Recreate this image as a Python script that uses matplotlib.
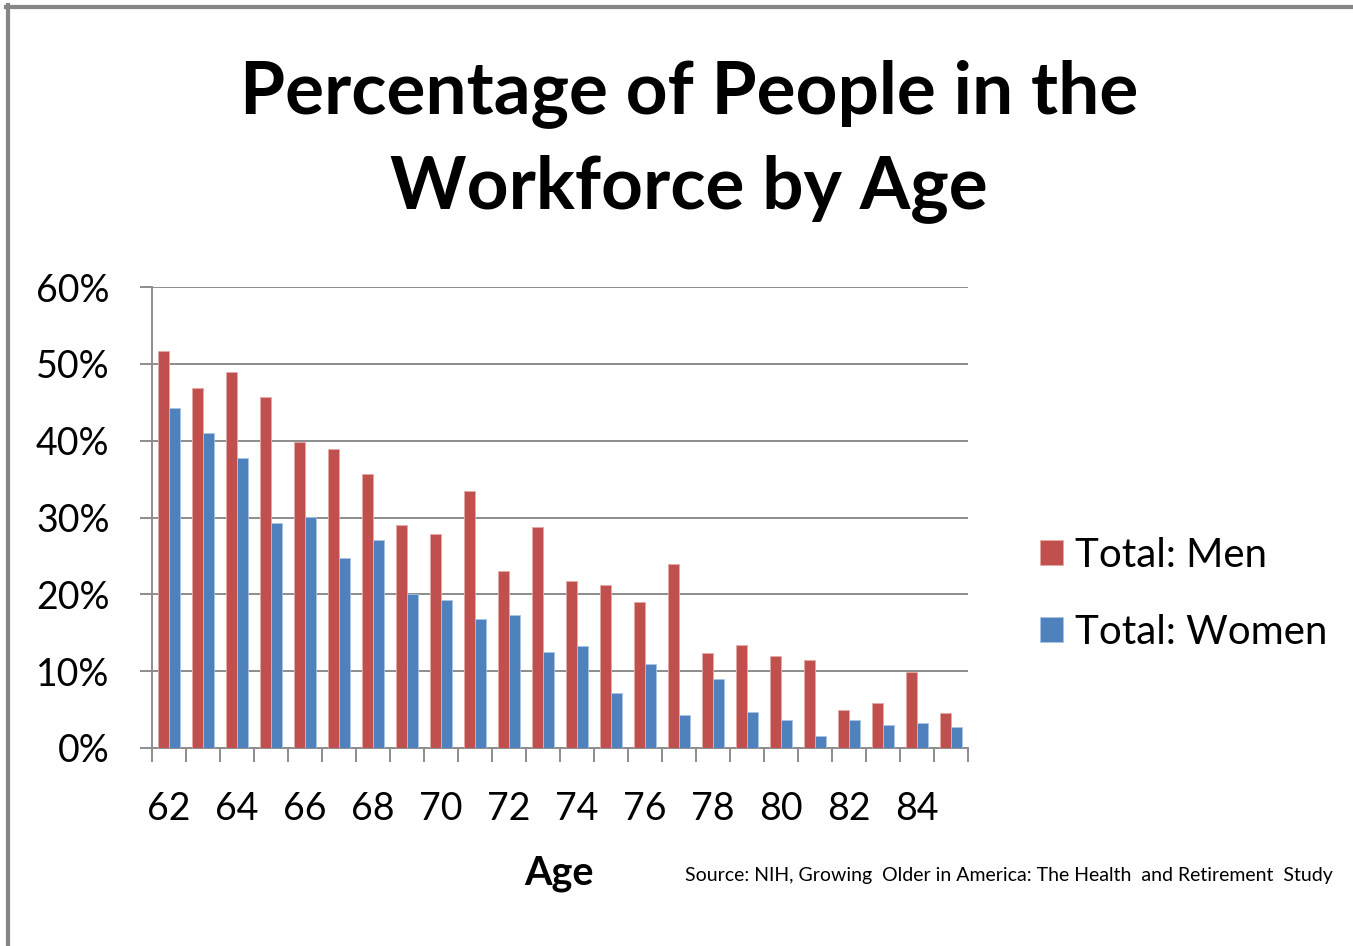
import matplotlib
matplotlib.use("Agg")
import numpy as np
import matplotlib.pyplot as plt
from matplotlib.lines import Line2D
from matplotlib.ticker import FuncFormatter

plt.rcParams["font.family"] = ["Lato", "DejaVu Sans"]

# Workforce participation by single year of age (percent)
ages = list(range(62, 86))
men = [51.7, 46.8, 49.0, 45.7, 39.8, 38.9, 35.7, 29.0, 27.9, 33.4, 23.1, 28.7,
       21.7, 21.2, 19.0, 23.9, 12.3, 13.4, 12.0, 11.5, 4.9, 5.8, 9.9, 4.6]
women = [44.3, 41.0, 37.8, 29.3, 30.1, 24.7, 27.1, 20.0, 19.3, 16.8, 17.3, 12.5,
         13.3, 7.1, 10.9, 4.3, 9.0, 4.7, 3.6, 1.6, 3.6, 3.0, 3.3, 2.7]
series_names = ["Total: Men", "Total: Women"]
yticks = [0, 10, 20, 30, 40, 50, 60]

RED = "#C0504D"
BLUE = "#4F81BD"
GRID = "#8C8C8C"

W, H = 1353, 946
fig = plt.figure(figsize=(W / 100, H / 100), dpi=100)
ax = fig.add_axes([152 / W, 1 - 748 / H, (968 - 152) / W, (748 - 287) / H])

x = np.arange(len(ages))
bw = 0.31
ax.bar(x - bw / 2, men, bw, color=RED, edgecolor="#E6A9A7", linewidth=0.6,
       label=series_names[0], zorder=3)
ax.bar(x + bw / 2, women, bw, color=BLUE, edgecolor="#A9C3E3", linewidth=0.6,
       label=series_names[1], zorder=3)

ax.set_xlim(-0.5, len(ages) - 0.5)
ax.set_ylim(0, 60)

# y axis: percent labels, gridlines at every 10%
ax.set_yticks(yticks)
ax.yaxis.set_major_formatter(FuncFormatter(lambda v, _: f"{v:.0f}%"))
ax.tick_params(axis="y", direction="out", length=8.6, width=1.4, color=GRID,
               pad=22, labelsize=27)
ax.grid(axis="y", color=GRID, linewidth=1.4, zorder=0)

# x axis: tick marks between categories, labels on every other age
ax.set_xticks(np.arange(-0.5, len(ages), 1.0))
ax.set_xticklabels([])
ax.tick_params(axis="x", which="major", direction="out", length=10, width=1.4,
               color=GRID)
even = [i for i, a in enumerate(ages) if a % 2 == 0 and a < 85]
ax.set_xticks(even, minor=True)
ax.set_xticklabels([str(ages[i]) for i in even], minor=True)
ax.tick_params(axis="x", which="minor", length=0, pad=31, labelsize=27)

for side in ("top", "right"):
    ax.spines[side].set_visible(False)
for side in ("left", "bottom"):
    ax.spines[side].set_color(GRID)
    ax.spines[side].set_linewidth(1.4)
ax.set_axisbelow(True)

fig.text(689 / W, 1 - 141 / H, "Percentage of People in the\nWorkforce by Age",
         ha="center", va="center", fontsize=52.5, fontweight="bold",
         linespacing=1.48)
fig.text(559 / W, 1 - 873 / H, "Age", ha="center", va="center",
         fontsize=28.5, fontweight="bold")
fig.text(1333 / W, 1 - 875 / H,
         "Source: NIH, Growing  Older in America: The Health  and Retirement  Study",
         ha="right", va="center", fontsize=14)

leg = ax.legend(loc="center left", bbox_to_anchor=(1040 / W, 1 - 594 / H),
                bbox_transform=fig.transFigure, frameon=False, fontsize=29,
                handlelength=0.58, handleheight=0.58, handletextpad=0.3,
                labelspacing=1.0, borderpad=0, borderaxespad=0)

# chart frame (top and left edges)
fig.add_artist(Line2D([6 / W, 1], [1 - 7 / H, 1 - 7 / H], color="#858585",
                      linewidth=3, transform=fig.transFigure))
fig.add_artist(Line2D([8 / W, 8 / W], [0, 1 - 5 / H], color="#858585",
                      linewidth=3, transform=fig.transFigure))

fig.savefig("out.png", dpi=100, facecolor="white")
